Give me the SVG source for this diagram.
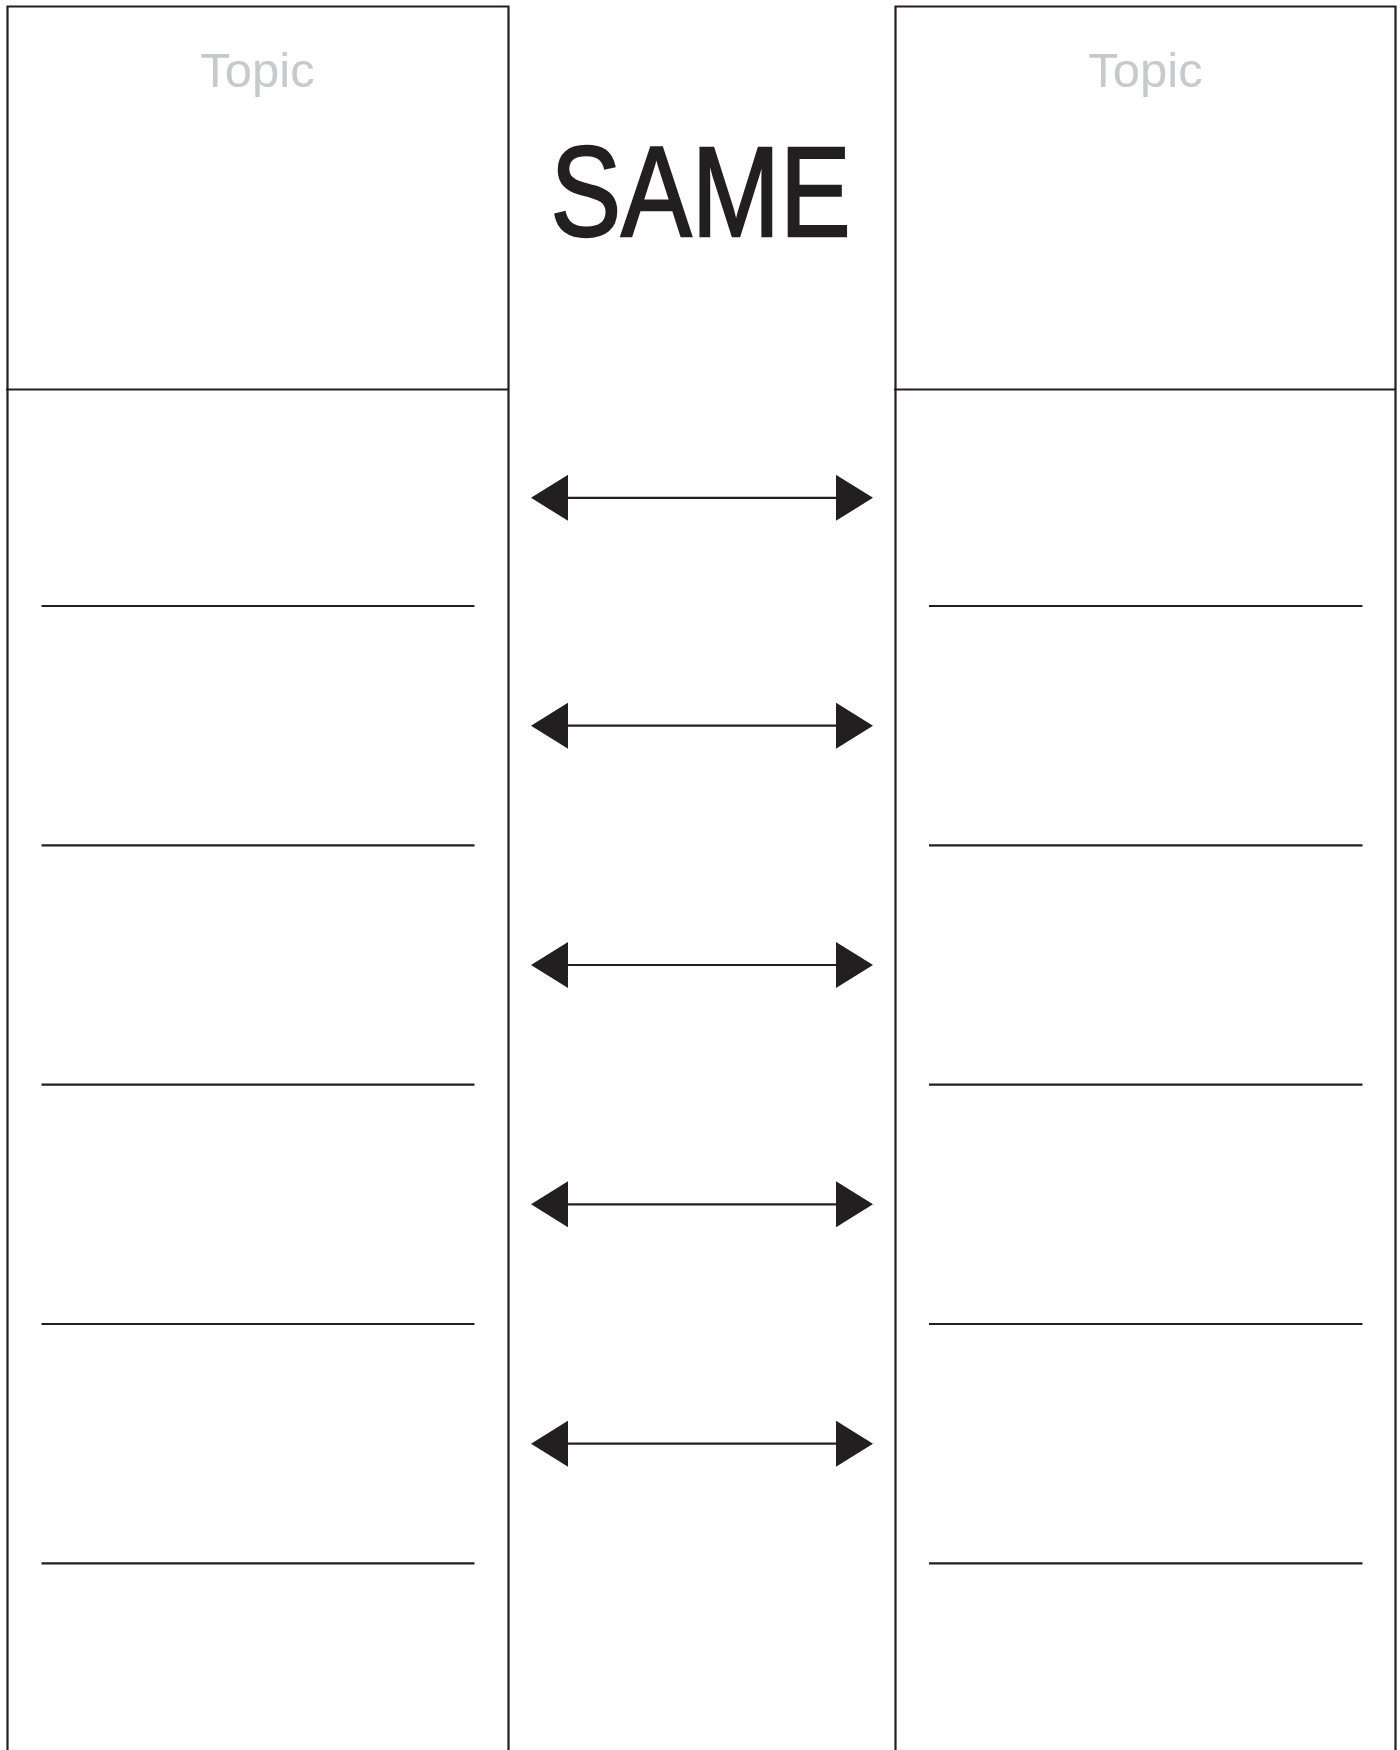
<svg xmlns="http://www.w3.org/2000/svg" width="1400" height="1750" viewBox="0 0 1400 1750">
  <style>
    .frame { fill: none; stroke: #231f20; stroke-width: 2.2; }
    .rule { stroke: #231f20; stroke-width: 2.2; }
    .topic { font-family: "Liberation Sans", Arial, sans-serif; font-size: 49px; fill: #c8c9cb; text-anchor: middle; }
    .title { font-family: "Liberation Sans", Arial, sans-serif; font-size: 128px; fill: #231f20; stroke: #231f20; stroke-width: 2.4; text-anchor: middle; }
    .conn { stroke: #231f20; stroke-width: 2.2; fill: none; marker-start: url(#head-start); marker-end: url(#head-end); }
  </style>
  <defs>
    <marker id="head-end" viewBox="0 0 37 46" refX="0" refY="23" markerWidth="37" markerHeight="46" markerUnits="userSpaceOnUse" orient="auto">
      <path d="M0,0 L37,23 L0,46 Z" fill="#231f20"/>
    </marker>
    <marker id="head-start" viewBox="0 0 37 46" refX="0" refY="23" markerWidth="37" markerHeight="46" markerUnits="userSpaceOnUse" orient="auto-start-reverse">
      <path d="M0,0 L37,23 L0,46 Z" fill="#231f20"/>
    </marker>
  </defs>
  <rect x="0" y="0" width="1400" height="1750" fill="#ffffff"/>

  <g id="left-column">
    <path class="frame" d="M7.5,1760 V6.5 H508.5 V1760"/>
    <line class="rule" x1="6" y1="389.5" x2="508.5" y2="389.5"/>
    <text class="topic" x="257.5" y="87">Topic</text>
    <line class="rule" x1="41.5" y1="606" x2="474.5" y2="606"/>
    <line class="rule" x1="41.5" y1="845.3" x2="474.5" y2="845.3"/>
    <line class="rule" x1="41.5" y1="1084.6" x2="474.5" y2="1084.6"/>
    <line class="rule" x1="41.5" y1="1324" x2="474.5" y2="1324"/>
    <line class="rule" x1="41.5" y1="1563.3" x2="474.5" y2="1563.3"/>
  </g>

  <g id="right-column">
    <path class="frame" d="M895.5,1760 V6.5 H1395.5 V1760"/>
    <line class="rule" x1="894" y1="389.5" x2="1395.5" y2="389.5"/>
    <text class="topic" x="1145.5" y="87">Topic</text>
    <line class="rule" x1="929" y1="606" x2="1362.5" y2="606"/>
    <line class="rule" x1="929" y1="845.3" x2="1362.5" y2="845.3"/>
    <line class="rule" x1="929" y1="1084.6" x2="1362.5" y2="1084.6"/>
    <line class="rule" x1="929" y1="1324" x2="1362.5" y2="1324"/>
    <line class="rule" x1="929" y1="1563.3" x2="1362.5" y2="1563.3"/>
  </g>

  <g id="title">
    <text class="title" x="700.5" y="236" textLength="300" lengthAdjust="spacingAndGlyphs">SAME</text>
  </g>

  <g id="connectors">
    <line class="conn" x1="568" y1="497.8" x2="836" y2="497.8"/>
    <line class="conn" x1="568" y1="725.7" x2="836" y2="725.7"/>
    <line class="conn" x1="568" y1="965" x2="836" y2="965"/>
    <line class="conn" x1="568" y1="1204.3" x2="836" y2="1204.3"/>
    <line class="conn" x1="568" y1="1443.7" x2="836" y2="1443.7"/>
  </g>
</svg>
